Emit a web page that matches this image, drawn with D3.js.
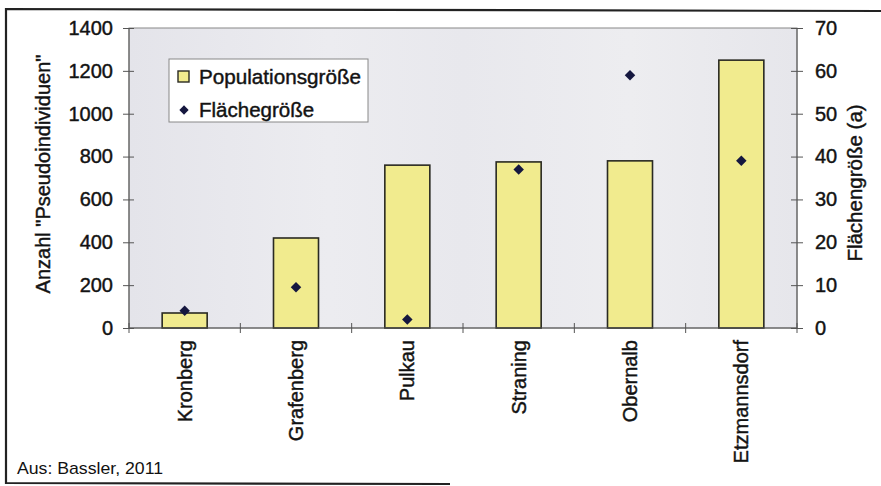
<!DOCTYPE html>
<html>
<head>
<meta charset="utf-8">
<script src="https://cdn.jsdelivr.net/npm/d3@7"></script>
<style>
  html, body { margin: 0; padding: 0; background: #fff; }
  svg { display: block; }
  text { font-family: Arial, "Liberation Sans", Helvetica, sans-serif; fill: #111; }
</style>
</head>
<body>
<svg id="chart" width="881" height="486"></svg>
<script>
// Sites along the x axis
const sites = ["Kronberg", "Grafenberg", "Pulkau", "Straning", "Obernalb", "Etzmannsdorf"];
// Number of pseudo-individuals per site (bars, left axis)
const population = [70, 420, 760, 775, 780, 1250];
// Area size per site in a (diamonds, right axis)
const area = [4, 9.5, 2, 37, 59, 39];
// Axis ticks
const leftTicks = [0, 200, 400, 600, 800, 1000, 1200, 1400];
const rightTicks = [0, 10, 20, 30, 40, 50, 60, 70];

const svg = d3.select("#chart");
const plot = { left: 129, right: 797, top: 28, bottom: 328 };
const ink = "#1a1a1a";

// Slightly heavier lettering, like printed text
function heavy(sel) {
  sel.attr("fill", ink).attr("stroke", ink).attr("stroke-width", 0.45)
    .style("font-family", "Arial, 'Liberation Sans', sans-serif");
}

// Outer frame (top, left, bottom edges)
svg.append("path")
  .attr("d", `M881,11 L6,9 L6,483 L450,484`)
  .attr("fill", "none").attr("stroke", "#222").attr("stroke-width", 2.2);

// Plot area background
const defs = svg.append("defs");
const grad = defs.append("linearGradient").attr("id", "bg").attr("x1", 0).attr("x2", 1).attr("y1", 0).attr("y2", 0);
[[0, "#e4e4ea"], [0.3, "#ececf0"], [0.5, "#e8e8ed"], [0.75, "#ededf0"], [1, "#e6e6eb"]]
  .forEach(([o, c]) => grad.append("stop").attr("offset", o).attr("stop-color", c));
svg.append("rect")
  .attr("x", plot.left).attr("y", plot.top)
  .attr("width", plot.right - plot.left).attr("height", plot.bottom - plot.top)
  .attr("fill", "url(#bg)").attr("stroke", "#888").attr("stroke-width", 1);

const xBand = d3.scaleBand().domain(sites).range([plot.left, plot.right]);
const cx = (d) => xBand(d) + xBand.bandwidth() / 2;
const yL = d3.scaleLinear().domain([0, 1400]).range([plot.bottom, plot.top]);
const yR = d3.scaleLinear().domain([0, 70]).range([plot.bottom, plot.top]);

// Bars
svg.append("g").selectAll("rect").data(sites).join("rect")
  .attr("x", (d) => cx(d) - 22.5)
  .attr("width", 45)
  .attr("y", (d, i) => yL(population[i]))
  .attr("height", (d, i) => plot.bottom - yL(population[i]))
  .attr("fill", "#f1eb8e").attr("stroke", "#2a2a22").attr("stroke-width", 1.6);

// Diamonds
const diamond = d3.symbol().type(d3.symbolDiamond2).size(70);
svg.append("g").selectAll("path").data(sites).join("path")
  .attr("d", diamond)
  .attr("transform", (d, i) => `translate(${cx(d)},${yR(area[i])})`)
  .attr("fill", "#15173f");

const tickFont = "20px";

// Left axis
const gL = svg.append("g").attr("transform", `translate(${plot.left},0)`)
  .call(d3.axisLeft(yL).tickValues(leftTicks).tickSize(6).tickPadding(10).tickFormat(d3.format("d")));
gL.selectAll("line").clone().attr("x2", 5);
gL.select(".domain").remove();
gL.append("line").attr("y1", plot.top).attr("y2", plot.bottom).attr("stroke", "#555");
gL.selectAll("line").attr("stroke", "#555");
gL.selectAll("text").attr("font-size", tickFont).call(heavy);

// Right axis
const gR = svg.append("g").attr("transform", `translate(${plot.right},0)`)
  .call(d3.axisRight(yR).tickValues(rightTicks).tickSize(6).tickPadding(12).tickFormat(d3.format("d")));
gR.selectAll("line").clone().attr("x2", -6);
gR.select(".domain").remove();
gR.append("line").attr("y1", plot.top).attr("y2", plot.bottom).attr("stroke", "#555");
gR.selectAll("line").attr("stroke", "#555");
gR.selectAll("text").attr("font-size", tickFont).call(heavy);

// Bottom axis: ticks between categories
const gB = svg.append("g").attr("transform", `translate(0,${plot.bottom})`);
gB.append("line").attr("x1", plot.left).attr("x2", plot.right).attr("stroke", "#555");
const sep = sites.map((d) => xBand(d)).concat([plot.right]);
gB.selectAll("line.t").data(sep).join("line").attr("class", "t")
  .attr("x1", (d) => d).attr("x2", (d) => d).attr("y1", -5).attr("y2", 5).attr("stroke", "#555");
gB.selectAll("text").data(sites).join("text")
  .attr("transform", (d) => `translate(${cx(d) + 7},12) rotate(-90)`)
  .attr("text-anchor", "end")
  .attr("font-size", tickFont)
  .text((d) => d)
  .call(heavy);

// Axis titles
svg.append("text")
  .attr("transform", `translate(50,174) rotate(-90)`)
  .attr("text-anchor", "middle").attr("font-size", "20px")
  .text("Anzahl \"Pseudoindividuen\"").call(heavy);
svg.append("text")
  .attr("transform", `translate(862,183) rotate(-90)`)
  .attr("text-anchor", "middle").attr("font-size", "20.5px")
  .text("Flächengröße (a)").call(heavy);

// Legend
const lg = svg.append("g");
lg.append("rect").attr("x", 169).attr("y", 59).attr("width", 199).attr("height", 63)
  .attr("fill", "#fff").attr("stroke", "#888").attr("stroke-width", 1);
lg.append("rect").attr("x", 178).attr("y", 71).attr("width", 11).attr("height", 11)
  .attr("fill", "#f1eb8e").attr("stroke", "#2a2a22").attr("stroke-width", 1.4);
lg.append("path").attr("d", d3.symbol().type(d3.symbolDiamond2).size(55))
  .attr("transform", "translate(184,110)").attr("fill", "#15173f");
lg.append("text").attr("x", 199).attr("y", 84).attr("font-size", "20.5px")
  .attr("textLength", 162).attr("lengthAdjust", "spacingAndGlyphs")
  .text("Populationsgröße").call(heavy);
lg.append("text").attr("x", 199).attr("y", 117).attr("font-size", "20.5px")
  .text("Flächegröße").call(heavy);

// Source note
svg.append("text").attr("x", 17).attr("y", 474)
  .attr("font-size", "17px").attr("fill", ink)
  .style("font-family", "'Liberation Sans Narrow', 'Arial Narrow', Arial, sans-serif")
  .attr("textLength", 146).attr("lengthAdjust", "spacingAndGlyphs")
  .text("Aus: Bassler, 2011");
</script>
</body>
</html>
